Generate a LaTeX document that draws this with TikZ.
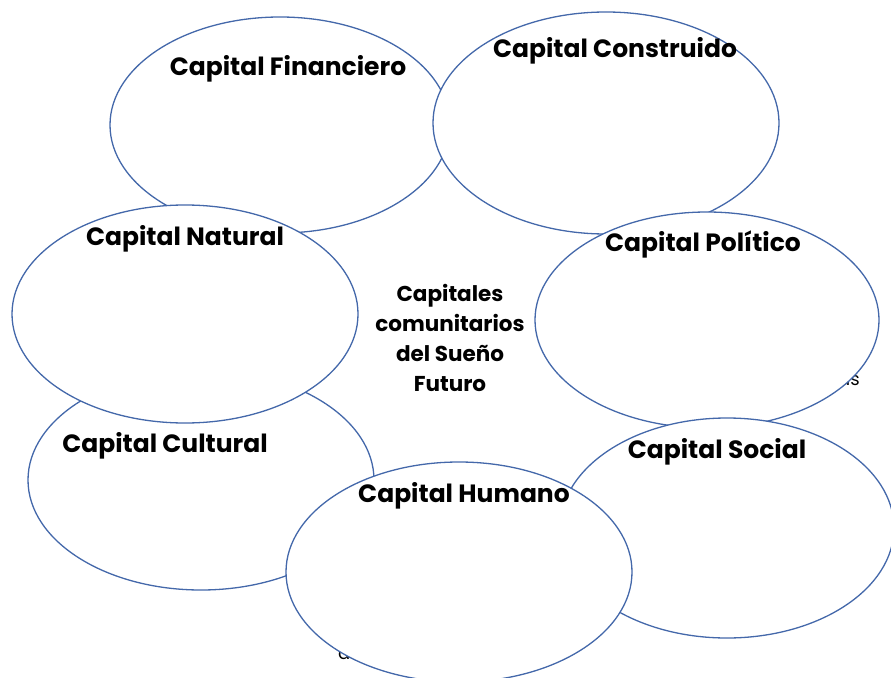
\documentclass[tikz,border=0pt]{standalone}
\usepackage{fontspec}
\setmainfont{Poppins}
\definecolor{edge}{RGB}{68,104,170}
\begin{document}
\begin{tikzpicture}[x=1pt,y=-1pt,
  capell/.style={draw=edge,line width=1.3pt,fill=white},
  lab/.style={font=\bfseries\fontsize{25}{28}\selectfont,text=black,inner sep=0pt},
  mid/.style={font=\bfseries\fontsize{21.5}{30}\selectfont,align=center,inner sep=0pt},
  frag/.style={font=\fontsize{18}{20}\selectfont,inner sep=0pt}]
\useasboundingbox (0,0) rectangle (891,677);
\node[frag,anchor=east] (fragas) at (860,381) {as};
\node[frag,anchor=west] (fraga) at (338,655) {a};
\draw[capell] (280,125) ellipse [x radius=170,y radius=108];
\draw[capell] (606,123) ellipse [x radius=173,y radius=111];
\draw[capell] (707,320) ellipse [x radius=172,y radius=108];
\draw[capell] (727,528) ellipse [x radius=167,y radius=110];
\draw[capell] (201,480) ellipse [x radius=173,y radius=110];
\draw[capell] (185,314) ellipse [x radius=173,y radius=109];
\draw[capell] (459,572) ellipse [x radius=173,y radius=110];
\node[lab] (fin) at (288,69) {Capital Financiero};
\node[lab] (con) at (615,51) {Capital Construido};
\node[lab] (nat) at (185,239) {Capital Natural};
\node[lab] (pol) at (703,244) {Capital Político};
\node[lab] (cul) at (165,446) {Capital Cultural};
\node[lab] (soc) at (717,452) {Capital Social};
\node[lab] (hum) at (464,496) {Capital Humano};
\node[mid] (centro) at (450,338) {Capitales\\comunitarios\\del Sueño\\Futuro};
\end{tikzpicture}
\end{document}
